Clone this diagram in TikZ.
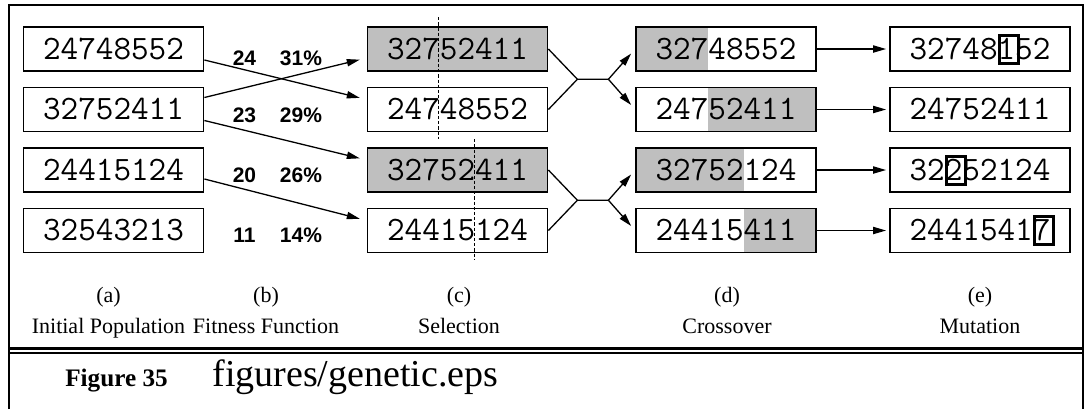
\documentclass[tikz,border=0pt]{standalone}
\usepackage{fontspec}
\setmainfont{Liberation Serif}
\setsansfont{Liberation Sans}
\usetikzlibrary{arrows.meta,calc}
\definecolor{ink}{HTML}{000000}
\definecolor{cutfill}{HTML}{BFBFBF}
\newcommand{\chromfont}{\fontsize{17.1pt}{20pt}\selectfont\ttfamily}
\newcommand{\mutbit}[1]{\makebox[0pt][l]{\hspace{0.25pt}\setlength{\fboxrule}{1.5pt}\setlength{\fboxsep}{0pt}\fbox{\makebox[8pt]{\rule[-1.25pt]{0pt}{12.5pt}}}}#1}
\tikzset{
  chrom/.style={draw=ink,line width=0.9pt,minimum width=90pt,minimum height=22pt,
    inner sep=0pt,text height=10.45pt,text depth=0pt,font=\chromfont},
  parent/.style={chrom,fill=cutfill},
  headcut/.style={path picture={\fill[cutfill] (path picture bounding box.south west)
    rectangle ([xshift=#1]path picture bounding box.north west);}},
  tailcut/.style={path picture={\fill[cutfill] (path picture bounding box.south east)
    rectangle ([xshift=-#1]path picture bounding box.north east);}},
  fitlbl/.style={inner sep=0pt,font=\fontsize{10.5pt}{12pt}\selectfont\sffamily\bfseries},
  tagtxt/.style={anchor=base,inner sep=0pt,font=\fontsize{11pt}{13pt}\selectfont},
  link/.style={draw=ink,line width=0.65pt},
  sel/.style={link,->,shorten >=3.5pt},
  cutline/.style={draw=ink,line width=0.6pt,dash pattern=on 1.6pt off 1pt}
}

\begin{document}
\begin{tikzpicture}[x=0.5pt,y=-0.5pt,>={Triangle[length=6.5pt,width=3.6pt]}]
  \useasboundingbox (0,0) rectangle (1087,409);
  % frame
  \draw[line width=1.2pt] (9,409) -- (9,5) -- (1083,5) -- (1083,409);
  \draw[line width=1.5pt] (9,348.3) -- (1083,348.3);
  \draw[line width=1pt] (9,352.8) -- (1083,352.8);

  % (a) initial population
  \foreach \nm/\bits/\yy in {a1/24748552/49, a2/32752411/109.5, a3/24415124/170, a4/32543213/230.5}
    \node[chrom] (\nm) at (113.5,\yy) {\bits};

  % (b) fitness
  \foreach \fit/\pct/\yy in {24/31/58, 23/29/115, 20/26/175, 11/14/235} {
    \node[fitlbl] (fit\fit) at (244.5,\yy) {\fit};
    \node[fitlbl] (pct\fit) at (301,\yy) {\pct\%};
  }

  % (c) selection
  \foreach \nm/\sty/\bits/\yy in {c1/parent/32752411/49, c2/chrom/24748552/109.5,
      c3/parent/32752411/170, c4/chrom/24415124/230.5}
    \node[\sty] (\nm) at (457.5,\yy) {\bits};

  % (d) crossover
  \node[chrom,headcut=36pt] (d1) at (726,49) {32748552};
  \node[chrom,tailcut=54pt] (d2) at (726,109.5) {24752411};
  \node[chrom,headcut=54pt] (d3) at (726,170) {32752124};
  \node[chrom,tailcut=36pt] (d4) at (726,230.5) {24415411};

  % (e) mutation
  \node[chrom] (e1) at (980,49) {32748\mutbit{1}52};
  \node[chrom] (e2) at (980,109.5) {24752411};
  \node[chrom] (e3) at (980,170) {32\mutbit{2}52124};
  \node[chrom] (e4) at (980,230.5) {2441541\mutbit{7}};

  \draw[sel] ([yshift=-5.5pt]a1.east) -- ([yshift=5pt]c2.west);
  \draw[sel] ([yshift=6pt]a2.east) -- ([yshift=-4.5pt]c1.west);
  \draw[sel] ([yshift=-5.5pt]a2.east) -- ([yshift=5pt]c3.west);
  \draw[sel] ([yshift=-4.5pt]a3.east) -- ([yshift=5pt]c4.west);

  \draw[cutline] ([xshift=36pt,yshift=4.5pt]c1.north west) -- ([xshift=36pt,yshift=-3.5pt]c2.south west);
  \draw[cutline] ([xshift=54pt,yshift=4pt]c3.north west) -- ([xshift=54pt,yshift=-3pt]c4.south west);

  \coordinate (x1) at ($(c1.east)!0.5!(c2.east)+(14.5pt,0)$);
  \coordinate (k1) at ([xshift=15.5pt]x1);
  \coordinate (x2) at ($(c3.east)!0.5!(c4.east)+(14.5pt,0)$);
  \coordinate (k2) at ([xshift=15.5pt]x2);
  \draw[link] (c1.east) -- (x1) -- (k1);
  \draw[link] (c2.east) -- (x1);
  \draw[link] (c3.east) -- (x2) -- (k2);
  \draw[link] (c4.east) -- (x2);
  \draw[sel,shorten >=3pt] (k1) -- (d1.west);
  \draw[sel,shorten >=3pt] (k1) -- (d2.west);
  \draw[sel,shorten >=3pt] (k2) -- (d3.west);
  \draw[sel,shorten >=3pt] (k2) -- (d4.west);

  \foreach \r in {1,...,4}
    \draw[sel,shorten >=1.5pt] (d\r.east) -- (e\r.west);

  % captions
  \foreach \tag/\txt/\xx in {a/Initial Population/108.5, b/Fitness Function/266,
      c/Selection/459, d/Crossover/727, e/Mutation/980} {
    \node[tagtxt] (tag\tag) at (\xx,302) {(\tag)};
    \node[tagtxt] (cap\tag) at (\xx,333) {\txt};
  }

  \node[anchor=base,inner sep=0pt,font=\fontsize{12.6pt}{14pt}\selectfont\bfseries] (figno) at (116.5,386) {Figure 35};
  \node[anchor=base west,inner sep=0pt,font=\fontsize{19pt}{22pt}\selectfont] (figfile) at (212,386) {figures/genetic.eps};
\end{tikzpicture}
\end{document}
